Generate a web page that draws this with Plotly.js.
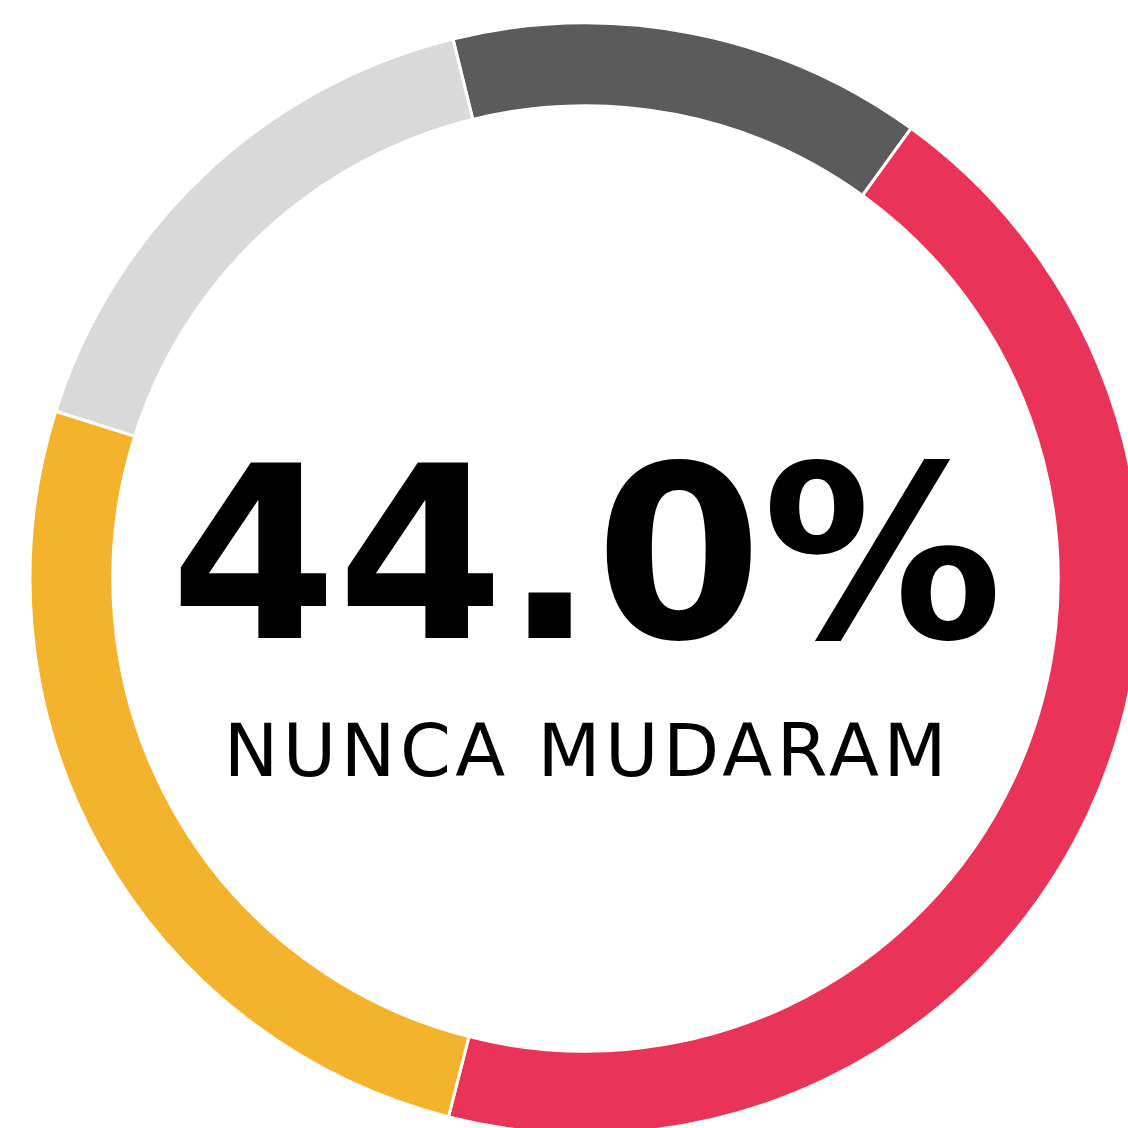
<!DOCTYPE html>
<html>
<head>
<meta charset="utf-8">
<script src="https://cdn.plot.ly/plotly-3.0.1.min.js"></script>
<style>
html,body{margin:0;padding:0;overflow:hidden;background:#fff;width:1128px;height:1128px}
g.annotation[data-index="1"] text{letter-spacing:4.5px}
</style>
</head>
<body>
<div id="chart"></div>
<script>
const labels = ["Outro A", "Nunca mudaram", "Outro B", "Outro C"];
const values = [13.8, 44.0, 25.9, 16.3];
const colors = ["#5b5b5b", "#e93457", "#f4b32c", "#d9d9d9"];
const mainText = "44.0%";
const subText = "NUNCA MUDARAM";

const data = [{
  type: "pie",
  labels: labels,
  values: values,
  hole: 0.851,
  sort: false,
  direction: "clockwise",
  rotation: -13.8,
  textinfo: "none",
  hoverinfo: "none",
  marker: {colors: colors, line: {color: "#ffffff", width: 3}},
  showlegend: false
}];

const layout = {
  width: 1200, height: 1200,
  margin: {l: 30, t: 23, r: 59, b: 66, pad: 0},
  paper_bgcolor: "#fff",
  showlegend: false,
  annotations: [
    {text: "<b>" + mainText + "</b>", x: 0.5, y: 0.5, xref: "paper", yref: "paper",
     showarrow: false, yshift: 24, xshift: 1,
     font: {family: "DejaVu Sans", size: 240, color: "#000"}},
    {text: subText, x: 0.5, y: 0.5, xref: "paper", yref: "paper",
     showarrow: false, yshift: -172, xshift: 2,
     font: {family: "DejaVu Sans", size: 73, color: "#000"}}
  ]
};
Plotly.newPlot("chart", data, layout, {staticPlot: true, displayModeBar: false});
</script>
</body>
</html>
